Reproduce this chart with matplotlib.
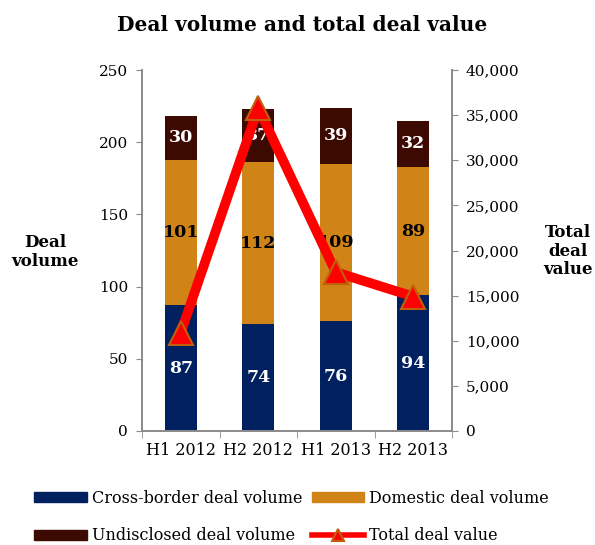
import matplotlib
matplotlib.use("Agg")
import matplotlib.pyplot as plt
from matplotlib.patches import Patch
from matplotlib.lines import Line2D
import numpy as np

plt.rcParams['font.family'] = ['DejaVu Serif']

categories = ["H1 2012", "H2 2012", "H1 2013", "H2 2013"]
cross_border = [87, 74, 76, 94]
domestic = [101, 112, 109, 89]
undisclosed = [30, 37, 39, 32]
total_value = [10900, 35800, 17600, 14900]

c_navy = "#00205F"
c_orange = "#D08418"
c_brown = "#3D0A02"
c_red = "#FF0000"
c_edge = "#C0600A"
c_axis = "#8C8C8C"

fig = plt.figure(figsize=(5.95, 5.45), dpi=100)
ax = fig.add_axes([142/595, 1-431/545, 310/595, 361/545])
ax2 = ax.twinx()

x = np.arange(len(categories))
w = 0.41
ax.bar(x, cross_border, w, color=c_navy, zorder=2)
ax.bar(x, domestic, w, bottom=cross_border, color=c_orange, zorder=2)
bot2 = np.array(cross_border) + np.array(domestic)
ax.bar(x, undisclosed, w, bottom=bot2, color=c_brown, zorder=2)

for i in range(len(x)):
    ax.text(x[i], cross_border[i]/2, str(cross_border[i]), ha='center', va='center',
            color='white', fontsize=12.5, fontweight='bold', zorder=3)
    ax.text(x[i], cross_border[i] + domestic[i]/2, str(domestic[i]), ha='center', va='center',
            color='black', fontsize=12.5, fontweight='bold', zorder=3)
    ax.text(x[i], bot2[i] + undisclosed[i]/2, str(undisclosed[i]), ha='center', va='center',
            color='white', fontsize=12.5, fontweight='bold', zorder=3)

ax2.plot(x, total_value, color=c_red, lw=7, marker='^', markersize=17,
         markerfacecolor=c_red, markeredgecolor=c_edge, markeredgewidth=1.5,
         solid_joinstyle='miter', zorder=5)

ax.set_xlim(-0.5, 3.5)
ax.set_ylim(0, 250)
ax2.set_ylim(0, 40000)
ax.set_yticks(np.arange(0, 251, 50))
ax2.set_yticks(np.arange(0, 40001, 5000))
ax2.set_yticklabels([f"{v:,}" for v in range(0, 40001, 5000)])
ax.set_xticks(x)
ax.set_xticklabels(categories)
ax.set_xticks(np.arange(-0.5, 4, 1), minor=True)
ax.tick_params(axis='x', which='major', length=0, pad=8, labelsize=11.5)
ax.tick_params(axis='x', which='minor', length=5, color=c_axis, direction='out')
ax.tick_params(axis='y', length=4, color=c_axis, labelsize=11, pad=6)
ax2.tick_params(axis='y', length=4, color=c_axis, labelsize=11, pad=6)

for a in (ax, ax2):
    a.spines['top'].set_visible(False)
    for s in ('left', 'right', 'bottom'):
        a.spines[s].set_color(c_axis)
        a.spines[s].set_linewidth(1.3)
ax.set_zorder(ax2.get_zorder() - 1)
ax.patch.set_visible(False)
ax2.patch.set_visible(False)
ax2.set_zorder(3)

fig.text(302/595, 1-25/545, "Deal volume and total deal value", ha='center', va='center',
         fontsize=14.5, fontweight='bold')
fig.text(45/595, 1-252/545, "Deal\nvolume", ha='center', va='center', fontsize=12,
         fontweight='bold', linespacing=1.1)
fig.text(568/595, 1-251/545, "Total\ndeal\nvalue", ha='center', va='center', fontsize=12,
         fontweight='bold', linespacing=1.1)

handles = [Patch(color=c_navy), Patch(color=c_brown), Patch(color=c_orange),
           Line2D([0], [0], color=c_red, lw=4, marker='^', markersize=9,
                  markerfacecolor=c_red, markeredgecolor=c_edge, markeredgewidth=1.5)]
labels = ["Cross-border deal volume", "Undisclosed deal volume", "Domestic deal volume",
          "Total deal value"]
fig.legend(handles, labels, ncol=2, loc='center', bbox_to_anchor=(0.49, 1-517/545),
           frameon=False, fontsize=11.5, handlelength=3.3, handleheight=0.6,
           handletextpad=0.3, columnspacing=0.6, labelspacing=1.3)

fig.savefig("out.png", dpi=100)
